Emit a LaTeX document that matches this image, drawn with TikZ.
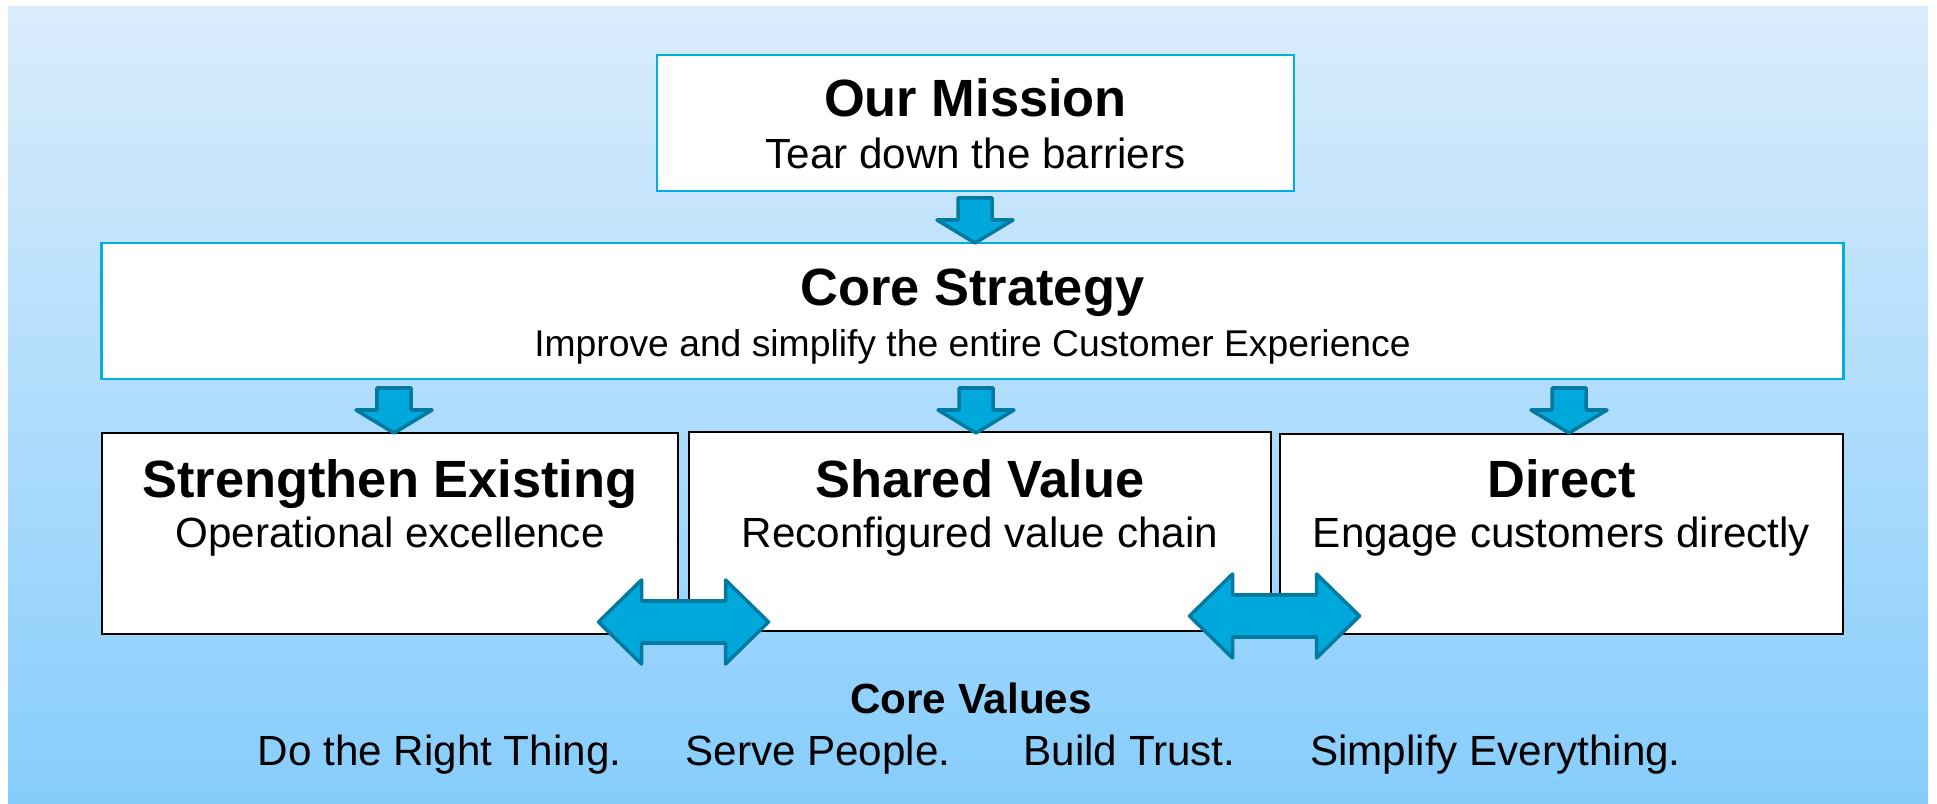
\documentclass[tikz,border=0pt]{standalone}
\usepackage{fontspec}
\setmainfont{Liberation Sans}
\usetikzlibrary{positioning}

\definecolor{bgtop}{RGB}{218,236,252}
\definecolor{bgbot}{RGB}{134,205,252}
\definecolor{boxcyan}{RGB}{0,174,224}
\definecolor{arrowfill}{RGB}{0,168,220}
\definecolor{arrowline}{RGB}{0,122,160}

\tikzset{
  topbox/.style={draw=boxcyan, line width=0.6pt, fill=white, inner sep=0pt},
  lowbox/.style={draw=black, line width=0.7pt, fill=white, inner sep=0pt},
  head/.style={anchor=base, font=\fontsize{14.9}{18}\selectfont\bfseries},
  sub/.style={anchor=base, font=\fontsize{12}{14}\selectfont},
  subsmall/.style={anchor=base, font=\fontsize{10.6}{13}\selectfont},
  valhead/.style={anchor=base, font=\fontsize{12}{14}\selectfont\bfseries},
  blk/.style={fill=arrowfill, draw=arrowline, line width=1pt, line join=round},
  downblk/.pic={\draw[blk] (-17,0) -- (17,0) -- (17,22) -- (38,22) -- (0,45) -- (-38,22) -- (-17,22) -- cycle;},
  twoblk/.pic={\draw[blk] (-85,0) -- (-42,-42) -- (-42,-21) -- (42,-21) -- (42,-42) -- (85,0) -- (42,42) -- (42,21) -- (-42,21) -- (-42,42) -- cycle;}
}

\begin{document}
\begin{tikzpicture}[x=0.01cm, y=-0.01cm]
    \useasboundingbox (0,0) rectangle (1937,804);
    \shade[top color=bgtop, bottom color=bgbot] (8,7) rectangle (1928,804);

    % mission and strategy
    \node[topbox, minimum width=6.37cm, minimum height=1.36cm] (mission) at (975.5,123) {};
    \node[head] (missiont) at (975.5,117) {Our Mission};
    \node[sub] (missions) at (975.5,169) {Tear down the barriers};

    \node[topbox, minimum width=17.41cm, minimum height=1.36cm] (strategy) at (972.5,311) {};
    \node[head] (strategyt) at (972.5,306) {Core Strategy};
    \node[subsmall] (strategys) at (972.5,357) {Improve and simplify the entire Customer Experience};

    % the three pillars
    \node[lowbox, minimum width=5.76cm, minimum height=2.01cm] (existing) at (390,533.5) {};
    \node[head] (existingt) at (390,498) {Strengthen Existing};
    \node[sub] (existings) at (390,548) {Operational excellence};

    \node[lowbox, minimum width=5.82cm, minimum height=1.99cm] (shared) at (980,531.5) {};
    \node[head] (sharedt) at (980,498) {Shared Value};
    \node[sub] (shareds) at (980,548) {Reconfigured value chain};

    \node[lowbox, minimum width=5.63cm, minimum height=2.00cm] (direct) at (1561.5,534) {};
    \node[head] (directt) at (1561.5,498) {Direct};
    \node[sub] (directs) at (1561.5,548) {Engage customers directly};

    % block arrows
    \pic at (975,198) {downblk};
    \pic at (394,388) {downblk};
    \pic at (976,388) {downblk};
    \pic at (1569,388) {downblk};
    \pic at (683.5,622) {twoblk};
    \pic at (1274.5,616) {twoblk};

    % values
    \node[valhead] (values) at (971,714) {Core Values};
    \node[sub] (val1) at (439.5,765) {Do the Right Thing.};
    \node[sub] (val2) at (818,765) {Serve People.};
    \node[sub] (val3) at (1129.5,765) {Build Trust.};
    \node[sub] (val4) at (1495.5,765) {Simplify Everything.};
\end{tikzpicture}
\end{document}
